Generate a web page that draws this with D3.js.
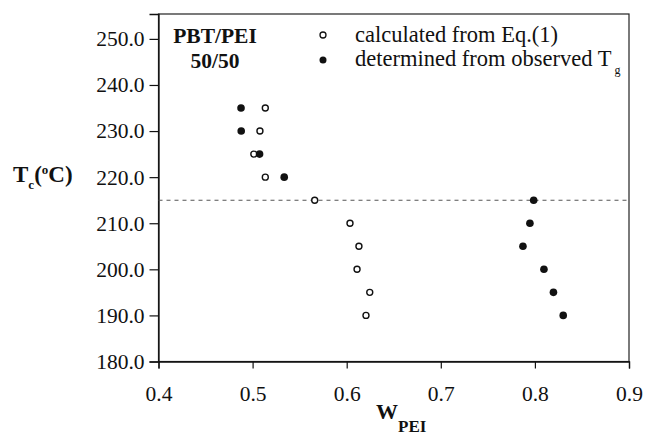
<!DOCTYPE html>
<html>
<head>
<meta charset="utf-8">
<script src="https://cdn.jsdelivr.net/npm/d3@7"></script>
<style>
  body { margin: 0; background: #fff; }
  text { font-family: "Liberation Serif", "Times New Roman", serif; fill: #111; }
</style>
</head>
<body>
<svg id="chart" width="645" height="438"></svg>
<script>
// data: crystallization temp Tc vs weight fraction of PEI
const tcValues = [235, 230, 225, 220, 215, 210, 205, 200, 195, 190];
const wCalculated = [0.5135, 0.5078, 0.5013, 0.5135, 0.566, 0.6035, 0.613, 0.611, 0.6245, 0.6205];
const tcObserved = [235, 230, 225, 220, 215, 210, 205, 200, 195, 190];
const wObserved = [0.4877, 0.4879, 0.5074, 0.5336, 0.7987, 0.7947, 0.7873, 0.8096, 0.8197, 0.8301];
const xTicks = [0.4, 0.5, 0.6, 0.7, 0.8, 0.9];
const yTicks = [180, 190, 200, 210, 220, 230, 240, 250];
const refTc = 215;

const svg = d3.select('#chart');
const margin = {left: 158.5, right: 16, top: 14, bottom: 76.5};
const width = 645 - margin.left - margin.right;
const height = 438 - margin.top - margin.bottom;

const x = d3.scaleLinear().domain([0.4, 0.9]).range([0, width]);
const y = d3.scaleLinear().domain([180, 255.4]).range([height, 0]);

const g = svg.append('g')
    .attr('transform', `translate(${margin.left},${margin.top})`);

// frame (top and right spine)
g.append('rect')
    .attr('width', width).attr('height', height)
    .attr('fill', 'none').attr('stroke', '#222').attr('stroke-width', 1.2);

// axes
const xAxis = g.append('g')
    .attr('transform', `translate(0,${height})`)
    .call(d3.axisBottom(x).tickValues(xTicks).tickFormat(d3.format('.1f')).tickSize(7).tickPadding(17));
const yAxis = g.append('g')
    .call(d3.axisLeft(y).tickValues(yTicks).tickFormat(d3.format('.1f')).tickSize(9).tickPadding(5));

[xAxis, yAxis].forEach(a => {
    a.select('.domain').attr('stroke', '#111').attr('stroke-width', 1.3);
    a.selectAll('.tick line').attr('stroke', '#111').attr('stroke-width', 1.2);
    a.selectAll('.tick text')
        .attr('font-family', '"Liberation Serif", serif')
        .attr('font-size', 21.5).attr('fill', '#111');
});

// dashed reference line at Tc = 215
g.append('line')
    .attr('x1', x(0.4)).attr('x2', x(0.9))
    .attr('y1', y(refTc)).attr('y2', y(refTc))
    .attr('stroke', '#555').attr('stroke-width', 1.1)
    .attr('stroke-dasharray', '4,4');

// points
const calc = tcValues.map((t, i) => ({w: wCalculated[i], t: t}));
const obs = tcObserved.map((t, i) => ({w: wObserved[i], t: t}));

g.selectAll('.calc')
    .data(calc)
    .enter()
        .append('circle')
        .attr('class', 'calc')
        .attr('cx', d => x(d.w))
        .attr('cy', d => y(d.t))
        .attr('r', 3)
        .attr('fill', '#fff')
        .attr('stroke', '#111')
        .attr('stroke-width', 1.4);

g.selectAll('.obs')
    .data(obs)
    .enter()
        .append('circle')
        .attr('class', 'obs')
        .attr('cx', d => x(d.w))
        .attr('cy', d => y(d.t))
        .attr('r', 3.8)
        .attr('fill', '#111');

// sample label
svg.append('text')
    .attr('x', 215).attr('y', 43)
    .attr('text-anchor', 'middle')
    .attr('font-size', 21.5).attr('font-weight', 'bold')
    .text('PBT/PEI');
svg.append('text')
    .attr('x', 215).attr('y', 68)
    .attr('text-anchor', 'middle')
    .attr('font-size', 21.5).attr('font-weight', 'bold')
    .text('50/50');

// legend
svg.append('circle')
    .attr('cx', 323).attr('cy', 35).attr('r', 3)
    .attr('fill', '#fff').attr('stroke', '#111').attr('stroke-width', 1.3);
svg.append('text')
    .attr('x', 355).attr('y', 42)
    .attr('font-size', 22.5)
    .text('calculated from Eq.(1)');
svg.append('circle')
    .attr('cx', 323).attr('cy', 60).attr('r', 3.5)
    .attr('fill', '#111');
const leg2 = svg.append('text')
    .attr('x', 355).attr('y', 66)
    .attr('font-size', 22.5);
leg2.append('tspan').text('determined from observed T');
leg2.append('tspan').attr('dx', 3).attr('dy', 8).attr('font-size', 12).text('g');

// y axis title
const yTitle = svg.append('text')
    .attr('x', 13).attr('y', 182)
    .attr('font-size', 23).attr('font-weight', 'bold');
yTitle.append('tspan').text('T');
yTitle.append('tspan').attr('dy', 7).attr('font-size', 13).text('c');
yTitle.append('tspan').attr('dy', -7).text('(');
yTitle.append('tspan').attr('dy', -8).attr('font-size', 13).text('o');
yTitle.append('tspan').attr('dy', 8).text('C)');

// x axis title
const xTitle = svg.append('text')
    .attr('x', 376).attr('y', 419)
    .attr('font-size', 22).attr('font-weight', 'bold');
xTitle.append('tspan').text('W');
xTitle.append('tspan').attr('dy', 13).attr('font-size', 17).text('PEI');
</script>
</body>
</html>
